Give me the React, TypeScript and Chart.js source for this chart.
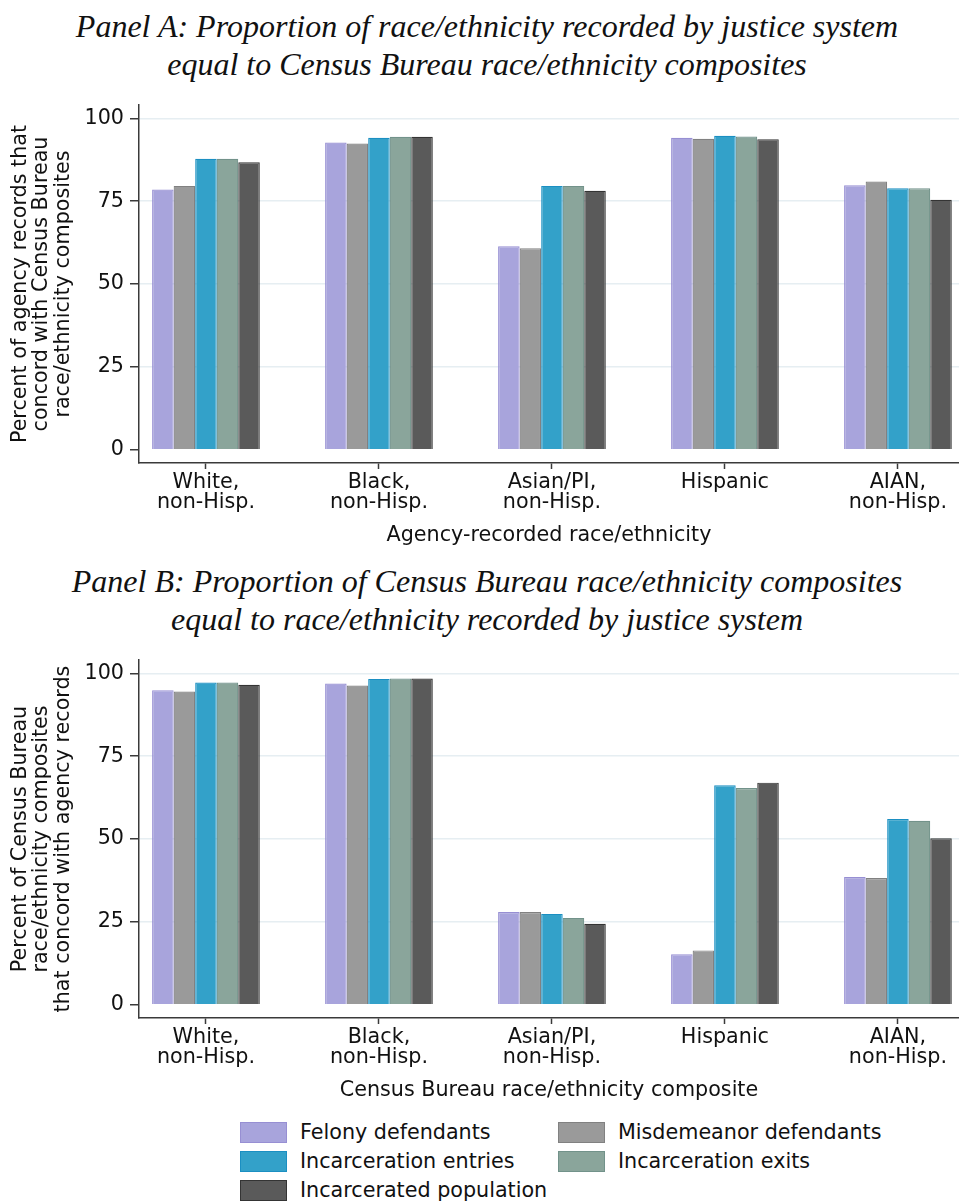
import React, { useEffect, useRef } from "react";
import { Chart, registerables } from "chart.js";

Chart.register(...registerables);

// Category labels (multi-line tick labels)
const CATEGORIES: string[][] = [
  ["White,", "non-Hisp."],
  ["Black,", "non-Hisp."],
  ["Asian/PI,", "non-Hisp."],
  ["Hispanic"],
  ["AIAN,", "non-Hisp."],
];

const SERIES_NAMES = [
  "Felony defendants",
  "Misdemeanor defendants",
  "Incarceration entries",
  "Incarceration exits",
  "Incarcerated population",
];

const Y_TICKS = [0, 25, 50, 75, 100];

// Panel A: agency-recorded race/ethnicity matching Census composites (%)
const A_FELONY = [78.5, 92.7, 61.4, 94.1, 79.8];
const A_MISDEMEANOR = [79.6, 92.4, 60.8, 93.8, 80.9];
const A_ENTRIES = [87.8, 94.1, 79.6, 94.7, 78.9];
const A_EXITS = [87.8, 94.4, 79.6, 94.5, 78.9];
const A_POPULATION = [86.7, 94.4, 78.1, 93.7, 75.4];

// Panel B: Census composites matching agency-recorded race/ethnicity (%)
const B_FELONY = [94.9, 96.9, 28.0, 15.2, 38.5];
const B_MISDEMEANOR = [94.5, 96.3, 28.0, 16.4, 38.2];
const B_ENTRIES = [97.2, 98.3, 27.4, 66.2, 56.0];
const B_EXITS = [97.2, 98.4, 26.2, 65.4, 55.5];
const B_POPULATION = [96.5, 98.4, 24.4, 67.0, 50.2];

const FILLS = ["#a8a4dc", "#9a9a9a", "#33a1c9", "#8aa59b", "#5a5a5a"];
const BORDERS = ["#978fd3", "#818181", "#1b8fc2", "#72928a", "#343434"];

const SANS = "'DejaVu Sans', sans-serif";
const FONT_SIZE = 20.7;
const AXIS = "#3a3a3a";

function buildChart(
  canvas: HTMLCanvasElement,
  series: number[][],
  yTitle: string[],
  xTitle: string
) {
  return new Chart(canvas, {
    type: "bar",
    data: {
      datasets: series.map((vals, s) => ({
        label: SERIES_NAMES[s],
        data: vals.map((v, i) => ({ x: i, y: v })),
        backgroundColor: FILLS[s],
        borderColor: BORDERS[s],
        borderWidth: 1.2,
        categoryPercentage: 0.6225,
        barPercentage: 1.0,
      })),
    },
    options: {
      responsive: false,
      animation: false,
      events: [],
      layout: { padding: { top: 10, right: 0, bottom: 0, left: 0 } },
      plugins: {
        legend: { display: false },
        tooltip: { enabled: false },
        title: { display: false },
      },
      scales: {
        x: {
          type: "linear",
          min: -0.387,
          max: 4.353,
          offset: false,
          afterBuildTicks: (scale: any) => {
            scale.ticks = CATEGORIES.map((_, i) => ({ value: i }));
          },
          afterFit: (scale: any) => {
            scale.height = 92;
            scale.paddingLeft = 0;
            scale.paddingRight = 0;
          },
          ticks: {
            autoSkip: false,
            maxRotation: 0,
            minRotation: 0,
            padding: 3,
            color: "#111",
            font: { family: SANS, size: FONT_SIZE, lineHeight: 1.0 },
            callback: (v: any) => CATEGORIES[Math.round(Number(v))] ?? "",
          },
          grid: {
            offset: false,
            drawOnChartArea: false,
            drawTicks: true,
            tickLength: 6,
            tickColor: AXIS,
            tickWidth: 1.5,
          },
          border: { display: true, color: AXIS, width: 1.5 },
          title: {
            display: true,
            text: xTitle,
            color: "#111",
            font: { family: SANS, size: FONT_SIZE, lineHeight: 1.05 },
            padding: { top: 0, bottom: 9 },
          },
        },
        y: {
          type: "linear",
          min: -4,
          max: 104,
          afterBuildTicks: (scale: any) => {
            scale.ticks = Y_TICKS.map((v) => ({ value: v }));
          },
          afterFit: (scale: any) => {
            scale.width = 139;
            scale.paddingTop = 0;
            scale.paddingBottom = 0;
          },
          ticks: {
            padding: 6,
            color: "#111",
            font: { family: SANS, size: FONT_SIZE },
          },
          grid: {
            drawTicks: true,
            tickLength: 9,
            tickColor: AXIS,
            tickWidth: 1.5,
            lineWidth: 1.5,
            color: (ctx: any) =>
              ctx.tick && ctx.tick.value === 0 ? "rgba(0,0,0,0)" : "#e6eef2",
          },
          border: { display: true, color: AXIS, width: 1.5 },
          title: {
            display: true,
            text: yTitle,
            color: "#111",
            font: { family: SANS, size: FONT_SIZE, lineHeight: 1.04 },
            padding: { top: 9.5, bottom: 0 },
          },
        },
      },
    },
  } as any);
}

function Panel({
  top,
  title,
  series,
  yTitle,
  xTitle,
}: {
  top: number;
  title: string[];
  series: number[][];
  yTitle: string[];
  xTitle: string;
}) {
  const ref = useRef<HTMLCanvasElement | null>(null);
  useEffect(() => {
    if (!ref.current) return;
    const chart = buildChart(ref.current, series, yTitle, xTitle);
    return () => chart.destroy();
  }, []);
  return (
    <>
      <div
        style={{
          position: "absolute",
          left: 0,
          top: top + 7,
          width: 974,
          textAlign: "center",
          fontFamily: "'Liberation Serif', 'Times New Roman', serif",
          fontStyle: "italic",
          fontSize: 32,
          lineHeight: "38px",
          color: "#111",
          whiteSpace: "nowrap",
        }}
      >
        {title.map((t, i) => (
          <div key={i}>{t}</div>
        ))}
      </div>
      <canvas
        ref={ref}
        width={959}
        height={460}
        style={{ position: "absolute", left: 0, top: top + 95, width: 959, height: 460 }}
      />
    </>
  );
}

const LEGEND_COLS = [240, 558];
const LEGEND_ROWS = [1132, 1161, 1190];

export default function App() {
  return (
    <div
      style={{
        position: "absolute",
        left: 0,
        top: 0,
        width: 959,
        height: 1201,
        background: "#fff",
        overflow: "hidden",
      }}
    >
      <Panel
        top={0}
        title={[
          "Panel A: Proportion of race/ethnicity recorded by justice system",
          "equal to Census Bureau race/ethnicity composites",
        ]}
        series={[A_FELONY, A_MISDEMEANOR, A_ENTRIES, A_EXITS, A_POPULATION]}
        yTitle={[
          "Percent of agency records that",
          "concord with Census Bureau",
          "race/ethnicity composites",
        ]}
        xTitle="Agency-recorded race/ethnicity"
      />
      <Panel
        top={555}
        title={[
          "Panel B: Proportion of Census Bureau race/ethnicity composites",
          "equal to race/ethnicity recorded by justice system",
        ]}
        series={[B_FELONY, B_MISDEMEANOR, B_ENTRIES, B_EXITS, B_POPULATION]}
        yTitle={[
          "Percent of Census Bureau",
          "race/ethnicity composites",
          "that concord with agency records",
        ]}
        xTitle="Census Bureau race/ethnicity composite"
      />
      {SERIES_NAMES.map((name, i) => {
        const col = i % 2;
        const row = Math.floor(i / 2);
        return (
          <div
            key={name}
            style={{
              position: "absolute",
              left: LEGEND_COLS[col],
              top: LEGEND_ROWS[row] - 12,
              height: 24,
              display: "flex",
              alignItems: "center",
              fontFamily: SANS,
              fontSize: FONT_SIZE,
              color: "#111",
              whiteSpace: "nowrap",
            }}
          >
            <span
              style={{
                display: "inline-block",
                boxSizing: "border-box",
                width: 47,
                height: 21,
                background: FILLS[i],
                border: `1.2px solid ${BORDERS[i]}`,
                marginRight: 13,
              }}
            />
            {name}
          </div>
        );
      })}
    </div>
  );
}
